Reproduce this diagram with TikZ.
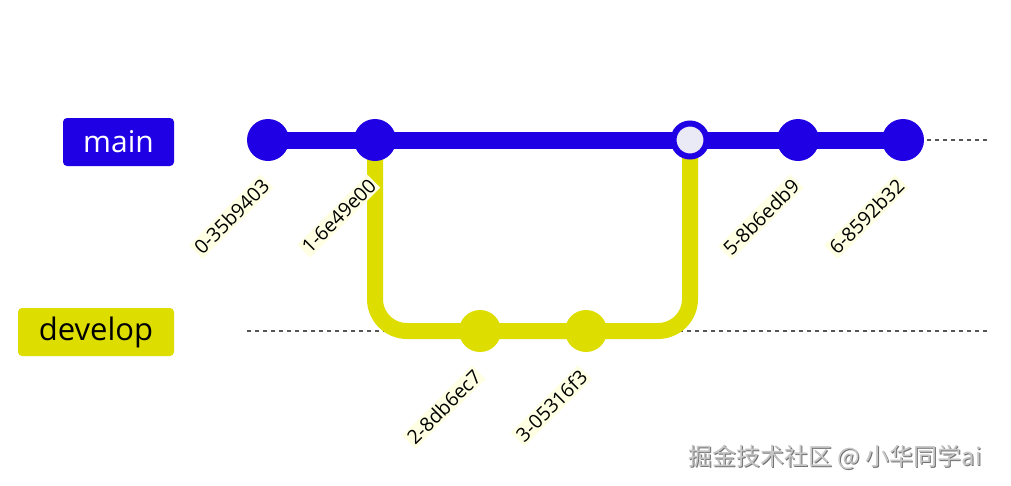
\documentclass[tikz,border=0pt]{standalone}
\usepackage{fontspec}
\setmainfont{Open Sans}
\newfontfamily\cjk{Noto Sans CJK SC}
\usetikzlibrary{backgrounds}
\definecolor{mainblue}{HTML}{1F00E5}
\definecolor{devyellow}{HTML}{DDDD00}
\definecolor{mergefill}{HTML}{EAEAF7}
\definecolor{labelbg}{HTML}{FFFFE4}
\definecolor{dashgray}{HTML}{555555}
\begin{document}
\begin{tikzpicture}[x=1pt,y=-1pt,
  commit/.style={circle, inner sep=0pt, minimum size=42pt},
  maincommit/.style={commit, fill=mainblue},
  devcommit/.style={commit, fill=devyellow},
  mergecommit/.style={circle, inner sep=0pt, minimum size=33pt, fill=mergefill, draw=mainblue, line width=6pt},
  clabel/.style={anchor=east, rotate=45, fill=labelbg, inner sep=2pt, font=\fontsize{19.5}{23}\selectfont, text=black},
  branchlbl/.style={rounded corners=4pt, minimum height=48pt, inner sep=0pt},
  dashline/.style={draw=dashgray, line width=1.3pt, dash pattern=on 4pt off 4pt},
  mainline/.style={draw=mainblue, line width=17pt},
  devline/.style={draw=devyellow, line width=16pt, rounded corners=32pt},
]
\useasboundingbox (0,0) rectangle (1011,485);

% branch labels
\node[branchlbl, fill=mainblue, text=white, minimum width=111pt, font=\fontsize{30}{36}\selectfont] (mainlbl) at (118.5,142) {main};
\node[branchlbl, fill=devyellow, text=black, minimum width=156pt, font=\fontsize{31}{36}\selectfont] (devlbl) at (96,332) {develop};

% commits
\node[maincommit] (c0) at (268,140) {};
\node[maincommit] (c1) at (375,140) {};
\node[devcommit] (c2) at (480,331) {};
\node[devcommit] (c3) at (586,331) {};
\node[mergecommit] (c4) at (690,140) {};
\node[maincommit] (c5) at (798,140) {};
\node[maincommit] (c6) at (903,140) {};

\coordinate (mainend) at (990,140);
\coordinate (devstart) at (247,331);
\coordinate (devend) at (990,331);

\begin{pgfonlayer}{background}
  \fill[white] (0,0) rectangle (1011,485);
  \draw[dashline] (devstart) -- (devend);
  \draw[dashline] (c6.center) -- (mainend);
  \draw[devline] (c1.center) |- (c2.center) -- (c3.center) -| (c4.center);
  \draw[mainline] (c0.center) -- (c6.center);
\end{pgfonlayer}

% commit labels
\node[clabel] (l0) at (267,181) {0-35b9403};
\node[clabel] (l1) at (374,181) {1-6e49e00};
\node[clabel] (l2) at (479,372) {2-8db6ec7};
\node[clabel] (l3) at (585,372) {3-05316f3};
\node[clabel] (l5) at (797,181) {5-8b6edb9};
\node[clabel] (l6) at (902,181) {6-8592b32};

% watermark
\node[anchor=base west, inner sep=0pt, text=gray!90!black, font=\cjk\fontsize{24}{28}\selectfont] (wm0) at (689,466) {掘金技术社区 @ 小华同学ai};
\node[anchor=base west, inner sep=0pt, text=gray!45, font=\cjk\fontsize{24}{28}\selectfont] (wm) at (688,465) {掘金技术社区 @ 小华同学ai};
\end{tikzpicture}
\end{document}
